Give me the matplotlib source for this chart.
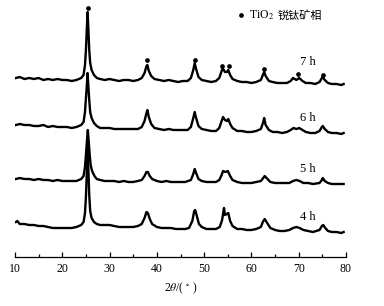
import matplotlib
matplotlib.use("Agg")
import matplotlib.pyplot as plt
from matplotlib.ticker import MultipleLocator

plt.rcParams['font.family'] = ['Liberation Serif', 'Noto Sans CJK SC']
plt.rcParams['mathtext.fontset'] = 'stix'

# traced XRD curves (2theta, offset intensity)
x7 = [10.2, 11, 12, 13, 14, 15, 16, 17, 18, 19, 20, 21, 22, 23, 24, 24.5, 24.8, 25.0, 25.2, 25.35, 25.5, 25.7, 25.9, 26.2, 26.7, 27.3, 28, 29, 30, 31, 32, 33, 34, 35, 36, 36.8, 37.4, 37.8, 38.0, 38.3, 38.8, 39.5, 40.5, 41.5, 42.5, 43.5, 44.5, 45.5, 46.5, 47.2, 47.7, 48.0, 48.3, 48.8, 49.5, 50.5, 51.5, 52.5, 53.2, 53.7, 53.9, 54.4, 54.8, 55.1, 55.5, 56, 57, 58, 59, 60, 61, 62, 62.5, 62.7, 63, 63.7, 64.5, 65.5, 66.5, 67.5, 68.3, 68.8, 69.5, 70.1, 70.8, 71.5, 72.5, 73.5, 74.4, 74.9, 75.1, 75.5, 76.2, 77, 78, 79, 79.5]
y7 = [177, 178, 176, 177, 176, 177, 175, 176, 175, 176, 175, 175, 174, 175, 177, 180, 190, 205, 228, 243, 228, 205, 192, 185, 180, 177, 176, 175, 176, 175, 174, 175, 175, 174, 175, 177, 182, 189, 190, 184, 179, 176, 175, 174, 175, 174, 173, 174, 174, 177, 185, 192, 186, 178, 175, 174, 173, 174, 177, 184, 187, 183, 183, 185, 180, 176, 174, 173, 173, 172, 173, 175, 181, 183, 179, 174, 173, 172, 172, 172, 174, 177, 175, 177, 174, 172, 172, 171, 173, 177, 178, 175, 172, 171, 171, 170, 171]

x6 = [10.2, 11, 12, 13, 14, 15, 16, 17, 18, 19, 20, 21, 22, 23, 24, 24.5, 24.8, 25.0, 25.2, 25.35, 25.5, 25.7, 25.9, 26.2, 26.7, 27.3, 28, 29, 30, 31, 32, 33, 34, 35, 36, 36.8, 37.4, 37.8, 38.0, 38.3, 38.8, 39.5, 40.5, 41.5, 42.5, 43.5, 44.5, 45.5, 46.5, 47.2, 47.7, 48.0, 48.3, 48.8, 49.5, 50.5, 51.5, 52.5, 53.2, 53.7, 54.0, 54.4, 54.8, 55.1, 55.5, 56, 57, 58, 59, 60, 61, 62, 62.5, 62.7, 63, 63.7, 64.5, 65.5, 66.5, 67.5, 68.3, 68.9, 69.5, 70.1, 70.8, 71.5, 72.5, 73.5, 74.4, 74.9, 75.1, 75.5, 76.2, 77, 78, 79, 79.5]
y6 = [130, 131, 130, 130, 129, 129, 130, 128, 129, 128, 128, 128, 127, 128, 130, 133, 143, 157, 170, 182, 170, 155, 143, 137, 132, 129, 127, 127, 127, 126, 126, 126, 126, 126, 126, 128, 134, 142, 145, 138, 131, 127, 126, 125, 126, 125, 125, 125, 125, 128, 137, 143, 137, 129, 126, 125, 124, 124, 127, 134, 138, 135, 134, 136, 131, 127, 124, 124, 123, 123, 124, 126, 133, 137, 130, 125, 123, 123, 122, 123, 125, 127, 126, 127, 125, 123, 122, 122, 124, 128, 129, 126, 123, 122, 122, 121, 122]

x5 = [10.2, 11, 12, 13, 14, 15, 16, 17, 18, 19, 20, 21, 22, 23, 24, 24.5, 24.8, 25.0, 25.2, 25.4, 25.6, 25.8, 26.0, 26.3, 26.8, 27.3, 28, 29, 30, 31, 32, 33, 34, 35, 36, 36.8, 37.4, 37.8, 38.1, 38.5, 39, 40, 41, 42, 43, 44, 45, 46, 47.2, 47.7, 48.0, 48.3, 48.8, 49.5, 50.5, 51.5, 52.5, 53.2, 53.7, 54.0, 54.5, 55.0, 55.5, 56, 57, 58, 59, 60, 61, 62, 62.5, 62.8, 63.2, 64, 65, 66, 67, 68, 68.8, 69.5, 70.2, 71, 72, 73, 74.4, 74.9, 75.1, 75.5, 76.2, 77, 78, 79, 79.5]
y5 = [76, 77, 76, 76, 75, 76, 75, 75, 74, 75, 74, 74, 74, 74, 76, 79, 88, 100, 113, 125, 113, 100, 90, 84, 79, 76, 75, 74, 74, 74, 73, 74, 73, 73, 74, 75, 79, 83, 83, 79, 76, 74, 73, 74, 73, 73, 73, 73, 75, 81, 86, 82, 76, 74, 73, 73, 73, 75, 80, 84, 83, 84, 79, 75, 73, 72, 72, 72, 73, 74, 77, 79, 77, 73, 72, 72, 72, 72, 74, 75, 74, 72, 72, 71, 72, 75, 77, 74, 72, 71, 71, 71, 71]

x4 = [10.2, 10.5, 11, 12, 13, 14, 15, 16, 17, 18, 19, 20, 21, 22, 23, 24, 24.5, 24.8, 25.0, 25.2, 25.35, 25.5, 25.7, 25.9, 26.2, 26.7, 27.3, 28, 29, 30, 31, 32, 33, 34, 35, 36, 36.8, 37.4, 37.8, 38.1, 38.5, 39, 40, 41, 42, 43, 44, 45, 46, 46.8, 47.5, 47.9, 48.1, 48.4, 48.9, 49.5, 50.5, 51.5, 52.5, 53.3, 53.8, 54.2, 54.4, 54.8, 55.1, 55.5, 56, 57, 58, 59, 60, 61, 62, 62.4, 62.8, 63.2, 64, 65, 66, 67, 68, 68.8, 69.5, 70.2, 71, 72, 73, 74.4, 74.9, 75.2, 75.6, 76.2, 77, 78, 79, 79.5]
y4 = [33, 34, 31, 31, 30, 30, 29, 29, 28, 27, 27, 27, 27, 27, 28, 30, 33, 42, 58, 85, 112, 88, 60, 44, 37, 33, 31, 30, 30, 30, 29, 28, 28, 28, 28, 29, 31, 37, 43, 42, 36, 31, 28, 27, 27, 27, 26, 26, 26, 27, 34, 44, 45, 40, 31, 28, 26, 26, 26, 28, 35, 47, 40, 41, 42, 34, 29, 26, 26, 25, 25, 26, 28, 33, 36, 33, 27, 25, 24, 24, 25, 27, 28, 27, 25, 24, 23, 25, 29, 30, 27, 24, 23, 23, 22, 23]

# anatase peak markers on 7 h curve
mark_x = [25.35, 37.9, 48.05, 53.8, 55.2, 62.6, 69.8, 75.2]
mark_y = [247, 195, 195, 189, 189, 186, 181, 180]

labels = ['7 h', '6 h', '5 h', '4 h']
label_x = [71.9, 71.9, 71.9, 71.9]
label_y = [193, 137, 86, 38]

fig = plt.figure(figsize=(3.84, 3.06), dpi=100)
ax = fig.add_axes([15/384, 49/306, 331/384, 252/306])

for xs, ys in [(x7, y7), (x6, y6), (x5, y5), (x4, y4)]:
    ax.plot(xs, ys, color='black', lw=1.7, solid_joinstyle='round')

ax.plot(mark_x, mark_y, 'o', color='black', markersize=3.4, markeredgewidth=0)

for t, lx, ly in zip(labels, label_x, label_y):
    ax.text(lx, ly, t, fontsize=9, ha='center', va='center')

ax.plot([57.9], [240], 'o', color='black', markersize=3.4, markeredgewidth=0)
ax.text(59.4, 240, 'TiO$_2$', fontsize=8.5, ha='left', va='center')
ax.text(65.6, 240, '锐钛矿相', fontsize=8, ha='left', va='center',
        family=['Noto Sans CJK SC'])

ax.set_xlim(10, 80)
ax.set_ylim(-2, 250)
for s in ['top', 'left', 'right']:
    ax.spines[s].set_visible(False)
ax.spines['bottom'].set_linewidth(0.9)
ax.set_yticks([])
ax.xaxis.set_major_locator(MultipleLocator(10))
ax.xaxis.set_minor_locator(MultipleLocator(5))
ax.tick_params(axis='x', which='major', direction='in', length=3.8, width=0.9, labelsize=8.5, pad=4)
ax.tick_params(axis='x', which='minor', direction='in', length=2.2, width=0.9)
ax.set_xlabel(r'2$\it{\theta}$/( $^{\circ}$ )', fontsize=8.5, labelpad=4)

fig.savefig('out.png', dpi=100)
